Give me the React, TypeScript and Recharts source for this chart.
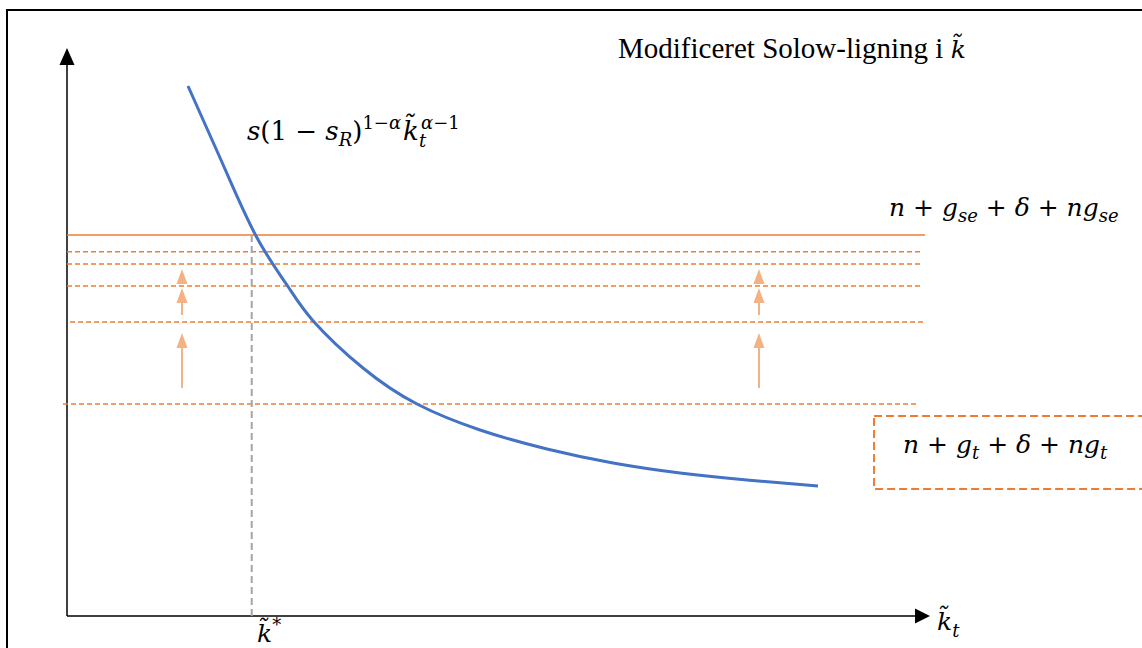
import { LineChart, Line, XAxis, YAxis, ReferenceLine, ReferenceArea } from "recharts";

// curve s(1-sR)^(1-a) k^(a-1)
const curveK = [1.41, 1.795, 2.203, 2.564, 2.867, 3.45, 4.079, 4.814, 5.594, 6.364, 7.145, 7.925, 8.753];
const curveY = [9.331, 8.028, 6.69, 5.827, 5.2, 4.366, 3.732, 3.275, 2.94, 2.694, 2.518, 2.394, 2.289];

// break-even lines
const solidLevel = 6.708;
const dashedLevels = [6.414, 6.197, 5.81, 5.176, 3.732];
const dashedStart = [0, 0, 0, 0.035, -0.047];
const dashedEnd = [9.965, 9.965, 9.965, 10, 9.92];

const kStar = 2.153;

// shift arrows
const arrowX = [1.34, 8.065];
const arrowFrom = [4.014, 5.299, 5.845];
const arrowTo = [4.982, 5.775, 6.109];

const data = curveK.map((k, i) => ({ k, y: curveY[i] }));

const ORANGE = "#ED7D31";
const LIGHT = "#F4B183";
const BLUE = "#4472C4";

const arrowShape = (color: string, width: number, headLen: number, headW: number) => (props: any) => {
  const { x1, y1, x2, y2 } = props;
  const dx = x2 - x1;
  const dy = y2 - y1;
  const len = Math.sqrt(dx * dx + dy * dy) || 1;
  const ux = dx / len;
  const uy = dy / len;
  const bx = x2 - ux * headLen;
  const by = y2 - uy * headLen;
  const px = -uy * headW / 2;
  const py = ux * headW / 2;
  return (
    <g>
      <line x1={x1} y1={y1} x2={bx} y2={by} stroke={color} strokeWidth={width} />
      <polygon points={`${x2},${y2} ${bx + px},${by + py} ${bx - px},${by - py}`} fill={color} />
    </g>
  );
};

const serif = "'Liberation Serif', 'Times New Roman', serif";
const math = "'DejaVu Serif', serif";

export default function App() {
  return (
    <div style={{ position: "absolute", left: 0, top: 0, width: 1142, height: 648, background: "#fff" }}>
      <LineChart width={1142} height={648} data={data} margin={{ top: 48, right: 217, bottom: 32, left: 67 }}>
        <XAxis dataKey="k" type="number" domain={[0, 10]} hide height={0} />
        <YAxis type="number" domain={[0, 10]} hide width={0} />

        <rect x={7} y={10} width={1145} height={650} fill="none" stroke="#000" strokeWidth={2} />

        <ReferenceLine segment={[{ x: 0, y: 0 }, { x: 0, y: 10 }]} ifOverflow="visible"
          shape={arrowShape("#000", 1.5, 17, 15)} />
        <ReferenceLine segment={[{ x: 0, y: 0 }, { x: 10.058, y: 0 }]} ifOverflow="visible"
          shape={arrowShape("#000", 1.5, 15, 15)} />

        <ReferenceLine segment={[{ x: 0, y: solidLevel }, { x: 10, y: solidLevel }]} stroke={ORANGE} strokeWidth={1.5} ifOverflow="visible" />
        {dashedLevels.map((lv, i) => (
          <ReferenceLine key={i} segment={[{ x: dashedStart[i], y: lv }, { x: dashedEnd[i], y: lv }]}
            stroke={ORANGE} strokeWidth={1.5} strokeDasharray="5 3" ifOverflow="visible" />
        ))}
        <ReferenceLine segment={[{ x: kStar, y: 0 }, { x: kStar, y: solidLevel }]} stroke="#A5A5A5" strokeWidth={2} strokeDasharray="7 4" />

        {arrowX.map((ax) =>
          arrowFrom.map((f, j) => (
            <ReferenceLine key={`${ax}-${j}`} segment={[{ x: ax, y: f }, { x: ax, y: arrowTo[j] }]}
              shape={arrowShape(LIGHT, 2, 15, 11)} />
          ))
        )}

        <ReferenceArea x1={9.406} x2={12.6} y1={2.236} y2={3.521} fill="none" fillOpacity={0}
          stroke={ORANGE} strokeWidth={2} strokeDasharray="8 4" ifOverflow="visible" />

        <Line dataKey="y" type="natural" stroke={BLUE} strokeWidth={3} dot={false} isAnimationActive={false} />

        <text x={618} y={58} fontFamily={serif} fontSize={29} fill="#000">
          Modificeret Solow-ligning i <tspan fontFamily={math} fontStyle="italic" fontSize={25}>k̃</tspan>
        </text>

        <text x={247} y={140} fontFamily={math} fontStyle="italic" fontSize={26} fill="#000">
          s<tspan fontStyle="normal">(1 − </tspan>s<tspan fontSize={18} dy={6}>R</tspan>
          <tspan fontStyle="normal" dy={-6}>)</tspan>
          <tspan fontSize={18} dy={-11} fontStyle="normal">1−</tspan><tspan fontSize={18}>α</tspan>
          <tspan dx={2} dy={11}>k̃</tspan>
          <tspan fontSize={18} dy={7}>t</tspan>
          <tspan fontSize={18} dx={-5} dy={-18}>α</tspan><tspan fontSize={18} fontStyle="normal">−1</tspan>
        </text>

        <text x={889} y={216} fontFamily={math} fontStyle="italic" fontSize={25} fill="#000">
          n<tspan fontStyle="normal"> + </tspan>g<tspan fontSize={18} dy={6}>se</tspan>
          <tspan fontStyle="normal" dy={-6}> + </tspan>δ<tspan fontStyle="normal"> + </tspan>ng<tspan fontSize={18} dy={6}>se</tspan>
        </text>

        <text x={903} y={453} fontFamily={math} fontStyle="italic" fontSize={25} fill="#000">
          n<tspan fontStyle="normal"> + </tspan>g<tspan fontSize={18} dy={6}>t</tspan>
          <tspan fontStyle="normal" dy={-6}> + </tspan>δ<tspan fontStyle="normal"> + </tspan>ng<tspan fontSize={18} dy={6}>t</tspan>
        </text>

        <text x={257} y={642} fontFamily={math} fontStyle="italic" fontSize={25} fill="#000">
          k̃<tspan fontSize={18} fontStyle="normal" dy={-11}>*</tspan>
        </text>

        <text x={937} y={630} fontFamily={math} fontStyle="italic" fontSize={25} fill="#000">
          k̃<tspan fontSize={18} dy={7}>t</tspan>
        </text>
      </LineChart>
    </div>
  );
}
